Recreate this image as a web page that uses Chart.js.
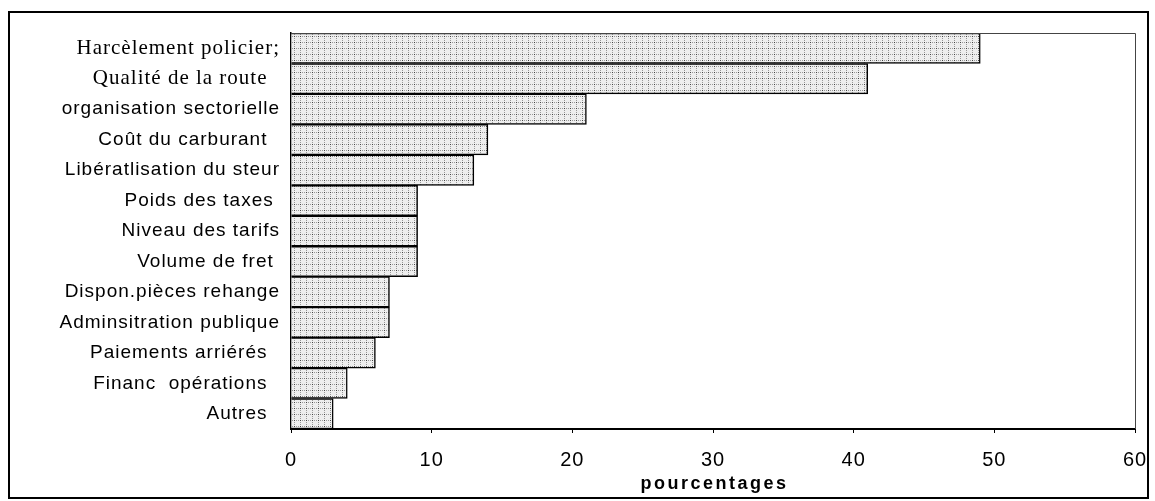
<!DOCTYPE html>
<html>
<head>
<meta charset="utf-8">
<script src="https://cdn.jsdelivr.net/npm/chart.js@4/dist/chart.umd.min.js"></script>
<style>
  html, body { margin: 0; padding: 0; background: #fff; }
  canvas { display: block; }
</style>
</head>
<body>
<canvas id="chart" width="1155" height="501"></canvas>
<script>
// ── DATA ──────────────────────────────────────────────
const categories = [
    'Harcèlement policier;',
    'Qualité de la route  ',
    'organisation sectorielle',
    'Coût du carburant  ',
    'Libératlisation du steur',
    'Poids des taxes ',
    'Niveau des tarifs',
    'Volume de fret ',
    'Dispon.pièces rehange',
    'Adminsitration publique',
    'Paiements arriérés  ',
    'Financ  opérations  ',
    'Autres  '
];
const values = [49, 41, 21, 14, 13, 9, 9, 9, 7, 7, 6, 4, 3];
const xMin = 0;
const xMax = 60;
const xStep = 10;
const axisTitle = 'pourcentages';

const SANS = '"Liberation Sans", Arial, sans-serif';
const SERIF = '"Liberation Serif", "Times New Roman", serif';

// stippled grey fill, like the scanned bars
function makeStipple() {
    const c = document.createElement('canvas');
    c.width = 6; c.height = 6;
    const g = c.getContext('2d');
    g.fillStyle = '#eeeeee';
    g.fillRect(0, 0, 6, 6);
    g.fillStyle = '#999';
    for (let i = 0; i < 6; i += 2) {
        g.fillRect(i, 0, 1, 1);
        g.fillRect(0, i, 1, 1);
    }
    g.fillStyle = '#444';
    g.fillRect(0, 0, 1, 1);
    return g.createPattern(c, 'repeat');
}

const framePlugin = {
    id: 'frame',
    beforeUpdate(chart) {
        chart.ctx.letterSpacing = '1px';
    },
    beforeDraw(chart) {
        const ctx = chart.ctx;
        ctx.save();
        ctx.fillStyle = '#fff';
        ctx.fillRect(0, 0, chart.width, chart.height);
        ctx.restore();
    },
    afterDraw(chart) {
        const { ctx, chartArea: a } = chart;
        ctx.save();
        // top and right edges of the plot area
        ctx.strokeStyle = '#444';
        ctx.lineWidth = 1;
        ctx.beginPath();
        ctx.moveTo(a.left, a.top + 0.5);
        ctx.lineTo(a.right + 0.5, a.top + 0.5);
        ctx.lineTo(a.right + 0.5, a.bottom);
        ctx.stroke();
        // outer frame
        ctx.strokeStyle = '#000';
        ctx.lineWidth = 2;
        ctx.strokeRect(9, 12, 1139, 486);
        // axis title
        ctx.letterSpacing = '2.5px';
        ctx.font = 'bold 18px ' + SANS;
        ctx.fillStyle = '#000';
        ctx.textAlign = 'center';
        ctx.textBaseline = 'alphabetic';
        ctx.fillText(axisTitle, (a.left + a.right) / 2 + 1.5, 489);
        ctx.restore();
    }
};

const canvas = document.getElementById('chart');

new Chart(canvas, {
    type: 'bar',
    data: {
        labels: categories,
        datasets: [{
            data: values,
            backgroundColor: makeStipple(),
            borderColor: '#000',
            borderWidth: 1.5,
            categoryPercentage: 1,
            barPercentage: 1
        }]
    },
    options: {
        indexAxis: 'y',
        responsive: false,
        animation: false,
        layout: { padding: { top: 33, right: 20, left: 0, bottom: 0 } },
        plugins: {
            legend: { display: false },
            tooltip: { enabled: false }
        },
        scales: {
            x: {
                min: xMin,
                max: xMax,
                ticks: {
                    stepSize: xStep,
                    color: '#000',
                    padding: 15,
                    font: { family: SANS, size: 20 }
                },
                grid: { drawOnChartArea: false, drawTicks: true, tickLength: 4, color: '#000' },
                border: { display: true, color: '#000', width: 2 },
                afterFit(scale) {
                    scale.height = 72;
                    scale.paddingLeft = 0;
                    scale.paddingRight = 0;
                }
            },
            y: {
                ticks: {
                    color: '#000',
                    padding: 11,
                    font: (ctx) => ctx.index < 2
                        ? { family: SERIF, size: 21 }
                        : { family: SANS, size: 19 }
                },
                grid: { drawOnChartArea: false, drawTicks: false },
                border: { display: true, color: '#000', width: 1.5 },
                afterFit(scale) {
                    scale.width = 291;
                    scale.paddingTop = 0;
                    scale.paddingBottom = 0;
                }
            }
        }
    },
    plugins: [framePlugin]
});
</script>
</body>
</html>
